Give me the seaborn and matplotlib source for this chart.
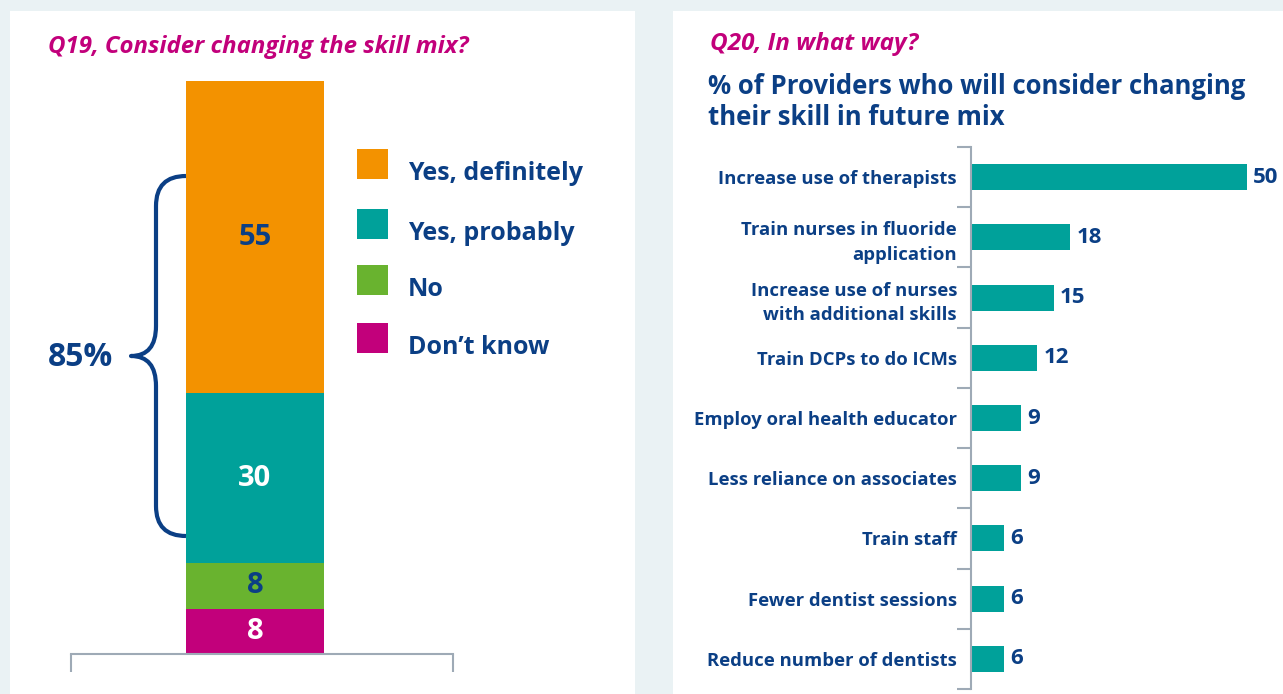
import numpy as np
import pandas as pd
import matplotlib
matplotlib.use("Agg")
import matplotlib.pyplot as plt
import seaborn as sns
from matplotlib.path import Path
from matplotlib.patches import PathPatch, Rectangle

# ---------------- data ----------------
q19_labels = ["Yes, definitely", "Yes, probably", "No", "Don\u2019t know"]
q19_values = [55, 30, 8, 8]
q19_bracket_label = "85%"

q20_labels = [
    "Increase use of therapists",
    "Train nurses in fluoride\napplication",
    "Increase use of nurses\nwith additional skills",
    "Train DCPs to do ICMs",
    "Employ oral health educator",
    "Less reliance on associates",
    "Train staff",
    "Fewer dentist sessions",
    "Reduce number of dentists",
]
q20_values = [50, 18, 15, 12, 9, 9, 6, 6, 6]

q19_title = "Q19, Consider changing the skill mix?"
q20_title = "Q20, In what way?"
q20_subtitle = "% of Providers who will consider changing\ntheir skill in future mix"

# ---------------- style ----------------
BG = "#eaf2f4"
NAVY = "#0b3f85"
MAGENTA = "#c2007b"
GRAY = "#9eaab6"
ORANGE = "#f39200"
TEAL = "#00a19a"
GREEN = "#69b32f"
q19_colors = [ORANGE, TEAL, GREEN, MAGENTA]
q19_text_colors = [NAVY, "white", NAVY, "white"]

W, H = 1283, 694
sns.set_theme(style="white")
plt.rcParams["font.family"] = ["Open Sans", "DejaVu Sans"]

fig = plt.figure(figsize=(W / 100, H / 100), dpi=100)
fig.patch.set_facecolor(BG)


def fx(x):
    return x / W


def fy(y):
    return 1 - y / H


# white panels
fig.add_artist(Rectangle((fx(10), 0), fx(635) - fx(10), fy(11), transform=fig.transFigure,
                         facecolor="white", edgecolor="none", zorder=0))
fig.add_artist(Rectangle((fx(673), 0), 1 - fx(673), fy(11), transform=fig.transFigure,
                         facecolor="white", edgecolor="none", zorder=0))

# ---------------- left: stacked bar ----------------
ax1 = fig.add_axes([fx(71), fy(654), fx(453) - fx(71), fy(81) - fy(654)])
ax1.patch.set_alpha(0)
n19 = len(q19_values)
for i in range(n19):
    total = sum(q19_values[i:])
    sns.barplot(x=["Q19"], y=[total], color=q19_colors[i], saturation=1, width=0.361,
                linewidth=0, errorbar=None, ax=ax1)
ax1.set_ylim(0, sum(q19_values))
x0, x1 = -0.4817, 0.5183
ax1.set_xlim(x0, x1)
for s in ["top", "left", "right"]:
    ax1.spines[s].set_visible(False)
ax1.spines["bottom"].set_color(GRAY)
ax1.spines["bottom"].set_linewidth(1.5)
ax1.set_xticks([x0, x1])
ax1.set_xticklabels(["", ""])
ax1.tick_params(axis="x", direction="out", length=13, width=1.5, color=GRAY, bottom=True)
ax1.set_yticks([])
ax1.set_xlabel("")
ax1.set_ylabel("")

for i, v in enumerate(q19_values):
    bottom = sum(q19_values[i + 1:])
    ax1.text(0, bottom + v / 2, str(v), ha="center", va="center", fontsize=21,
             fontweight="bold", color=q19_text_colors[i])

# legend (square swatches + labels)
legend_tops = [149, 209, 265, 323]
for lab, col, top in zip(q19_labels, q19_colors, legend_tops):
    fig.add_artist(Rectangle((fx(357), fy(top + 30)), fx(31), 30 / H, transform=fig.transFigure,
                             facecolor=col, edgecolor="none"))
    fig.text(fx(408), fy(top + 31), lab, ha="left", va="baseline", fontsize=18,
             fontweight="bold", color=NAVY)

# brace
verts = [(186, 176), (156, 176), (156, 206),
         (156, 326),
         (156, 356), (131, 356),
         (156, 356), (156, 386),
         (156, 506),
         (156, 536), (186, 536)]
codes = [Path.MOVETO, Path.CURVE3, Path.CURVE3,
         Path.LINETO,
         Path.CURVE3, Path.CURVE3,
         Path.CURVE3, Path.CURVE3,
         Path.LINETO,
         Path.CURVE3, Path.CURVE3]
verts_fig = [(fx(x), fy(y)) for x, y in verts]
fig.add_artist(PathPatch(Path(verts_fig, codes), transform=fig.transFigure, facecolor="none",
                         edgecolor=NAVY, linewidth=3.0, capstyle="butt", joinstyle="round"))
fig.text(fx(48), fy(357), q19_bracket_label, ha="left", va="center", fontsize=23,
         fontweight="bold", color=NAVY)

fig.text(fx(48), fy(47), q19_title, ha="left", va="center", fontsize=17.3,
         fontweight="bold", style="italic", color=MAGENTA)

# ---------------- right: horizontal bars ----------------
ax2 = fig.add_axes([fx(971), fy(689), 1 - fx(971), fy(147) - fy(689)])
ax2.patch.set_alpha(0)
df20 = pd.DataFrame({"label": q20_labels, "value": q20_values})
sns.barplot(data=df20, x="value", y="label", orient="h", color=TEAL, saturation=1,
            width=0.43, linewidth=0, errorbar=None, ax=ax2)
ax2.set_xlim(0, (W - 971) / 5.52)
n20 = len(q20_values)
ax2.set_ylim(n20 - 0.5, -0.5)
for s in ["top", "bottom", "right"]:
    ax2.spines[s].set_visible(False)
ax2.spines["left"].set_color(GRAY)
ax2.spines["left"].set_linewidth(1.5)
ax2.set_xticks([])
ax2.set_xlabel("")
ax2.set_ylabel("")
ax2.set_yticks(np.arange(-0.5, n20, 1.0), minor=True)
ax2.tick_params(axis="y", which="minor", direction="out", length=10, width=1.5, color=GRAY, left=True)
ax2.tick_params(axis="y", which="major", length=0, pad=10)
for t in ax2.get_yticklabels():
    t.set_fontsize(13.3)
    t.set_fontweight("bold")
    t.set_color(NAVY)
    t.set_linespacing(1.45)
    t.set_verticalalignment("center_baseline")

for i, v in enumerate(q20_values):
    ax2.text(v + 1.15, i, str(v), ha="left", va="center", fontsize=16,
             fontweight="bold", color=NAVY, clip_on=False)

fig.text(fx(710), fy(44), q20_title, ha="left", va="center", fontsize=17.5,
         fontweight="bold", style="italic", color=MAGENTA)
fig.text(fx(708), fy(102), q20_subtitle, ha="left", va="center", fontsize=18.5,
         fontweight="bold", color=NAVY, linespacing=1.2)

fig.savefig("out.png", dpi=100, facecolor=fig.get_facecolor())
